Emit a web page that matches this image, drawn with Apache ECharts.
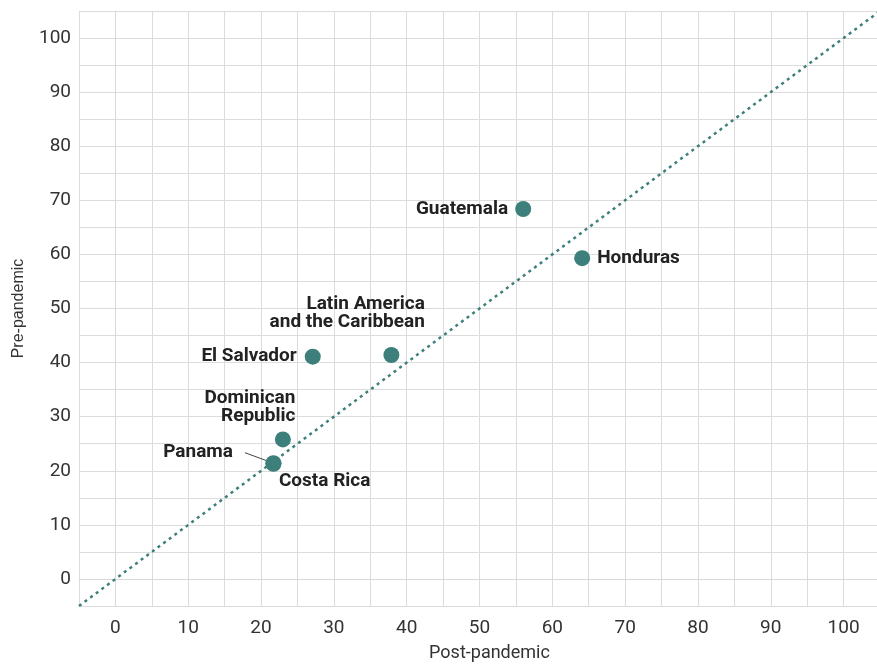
<!DOCTYPE html>
<html>
<head>
<meta charset="utf-8">
<script src="https://cdn.jsdelivr.net/npm/echarts@6/dist/echarts.min.js"></script>
<style>
html,body{margin:0;padding:0;background:#fff;}
#c{width:877px;height:664px;}
</style>
</head>
<body>
<div id="c"></div>
<script>
var countries = ['Guatemala', 'Honduras', 'Latin America\nand the Caribbean', 'El Salvador', 'Dominican\nRepublic', 'Panama', 'Costa Rica'];
var postPandemic = [56.0, 64.1, 37.9, 27.1, 23.0, 21.7, 21.7];
var prePandemic = [68.4, 59.3, 41.4, 41.1, 25.8, 21.4, 21.3];
var refLine = [[-5, -5], [105, 105]];
var tickValues = [0, 10, 20, 30, 40, 50, 60, 70, 80, 90, 100];

var labelCfg = [
  {position: 'left', distance: 7},
  {position: 'right', distance: 7},
  {position: [41.5, -15.5], align: 'right', verticalAlign: 'bottom'},
  {position: 'left', distance: 8},
  {position: [20.5, -6.5], align: 'right', verticalAlign: 'bottom'},
  {position: [-20.5, -2.5], align: 'right', verticalAlign: 'middle', padding: [0, 12, 0, 0]},
  {position: [13.5, 26], align: 'left', verticalAlign: 'middle'}
];

var pts = countries.map(function (n, i) {
  var lab = Object.assign({show: true, formatter: n}, labelCfg[i]);
  var item = {name: n, value: [postPandemic[i], prePandemic[i]], label: lab};
  if (n === 'Panama') {
    item.labelLine = {show: true, lineStyle: {color: '#444', width: 1}};
  }
  return item;
});

var chart = echarts.init(document.getElementById('c'));
function tickFmt(v) { return tickValues.indexOf(v) >= 0 ? String(v) : ''; }
var axisCommon = {
  type: 'value', min: -5, max: 105, interval: 5,
  axisLine: {show: true, lineStyle: {color: '#d9d9d9', width: 1}},
  axisTick: {show: false},
  splitLine: {show: true, lineStyle: {color: '#dcdcdc', width: 1}},
  axisLabel: {formatter: tickFmt, color: '#333', fontSize: 19, fontFamily: 'Roboto'},
  nameLocation: 'middle'
};
chart.setOption({
  animation: false,
  grid: {left: 79, top: 11, width: 801, height: 595, containLabel: false, outerBoundsMode: 'none', show: false},
  xAxis: Object.assign({}, axisCommon, {
    name: 'Post-pandemic', nameGap: 38,
    axisLabel: Object.assign({}, axisCommon.axisLabel, {margin: 13}),
    nameTextStyle: {color: '#333', fontSize: 18, fontFamily: 'Roboto', padding: [0, 0, 0, 20]}
  }),
  yAxis: Object.assign({}, axisCommon, {
    name: 'Pre-pandemic', nameGap: 52,
    axisLabel: Object.assign({}, axisCommon.axisLabel, {margin: 8}),
    nameTextStyle: {color: '#333', fontSize: 16, fontFamily: 'Liberation Sans'}
  }),
  series: [
    {
      type: 'line', data: refLine, symbol: 'none', silent: true,
      lineStyle: {color: '#3d7f7a', width: 2.5, type: [3, 4]}, z: 1
    },
    {
      type: 'scatter', data: pts, symbolSize: 16, z: 3,
      itemStyle: {color: '#3d7f7a', opacity: 1},
      label: {color: '#222', fontSize: 19, fontWeight: 'bold', fontFamily: 'Roboto', lineHeight: 18},
      labelLayout: {hideOverlap: false}
    }
  ]
});
</script>
</body>
</html>
